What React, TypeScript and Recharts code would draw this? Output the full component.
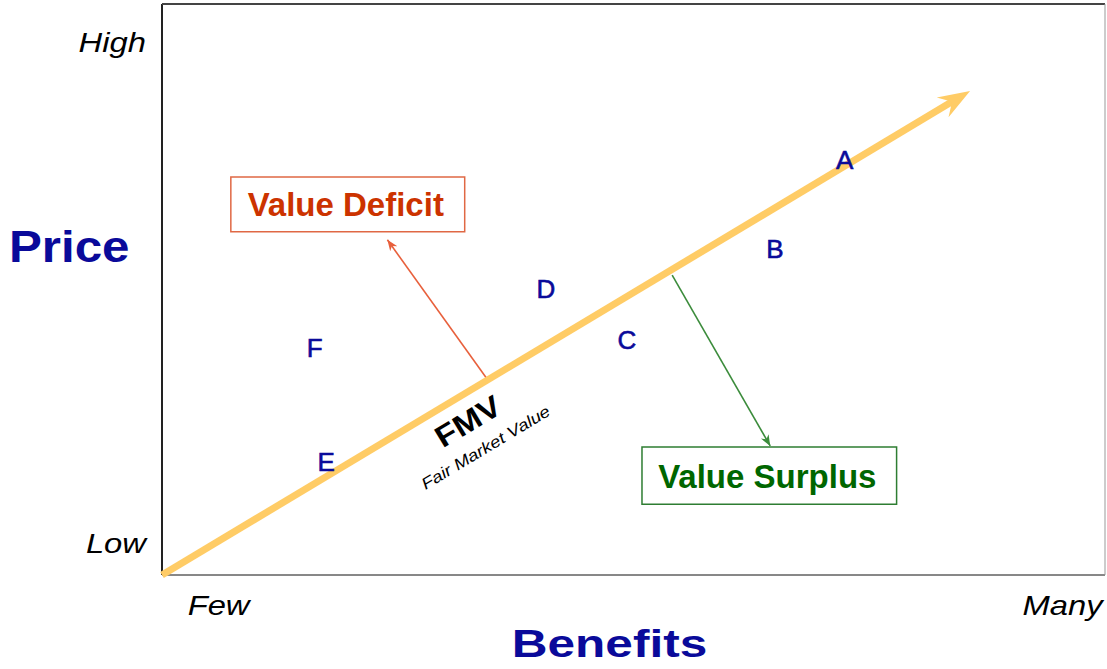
import {
  ComposedChart,
  Line,
  Scatter,
  XAxis,
  YAxis,
  ReferenceArea,
  ReferenceLine,
  ReferenceDot,
  Label,
} from "recharts";

// letters placed on the price / benefits map (0..100 both ways)
const pointLabels = ["A", "B", "C", "D", "E", "F"];
const pointBenefits = [72.4, 65.0, 49.3, 40.7, 17.4, 16.2];
const pointPrices = [72.7, 57.1, 41.3, 50.1, 19.8, 39.9];

// fair market value line
const fmvBenefits = [0, 84.6];
const fmvPrices = [0, 83.7];

// arrows off the FMV line
const deficitBenefits = [34.4, 23.9];
const deficitPrices = [34.5, 58.7];
const surplusBenefits = [54.1, 64.5];
const surplusPrices = [52.5, 22.6];

// boxes: [x1, x2, y1, y2]
const deficitBox = [7.3, 32.1, 60.1, 69.7];
const surplusBox = [50.9, 77.9, 12.4, 22.4];

// axis tick labels
const xTickLabels = ["Few", "Many"];
const xTickValues = [6.0, 95.5];
const yTickLabels = ["Low", "High"];
const yTickValues = [5.6, 93.3];

// FMV captions
const fmvCaption = { x: 32.4, y: 27.0, text: "FMV" };
const fmvSubCaption = { x: 34.3, y: 22.4, text: "Fair Market Value" };

const FONT = '"Liberation Sans", Arial, sans-serif';
const BLUE = "#0a0a9a";
const FMV_COLOR = "#FFCC66";
const LINE_ANGLE = -31;

const toPoints = (xs: number[], ys: number[]) => xs.map((x, i) => ({ x, y: ys[i] }));

const letterData = pointLabels.map((label, i) => ({
  x: pointBenefits[i],
  y: pointPrices[i],
  label,
}));
const fmvData = toPoints(fmvBenefits, fmvPrices);
const deficitData = toPoints(deficitBenefits, deficitPrices);
const surplusData = toPoints(surplusBenefits, surplusPrices);

function LetterShape(props: any) {
  const { cx, cy, payload } = props;
  return (
    <text
      x={cx}
      y={cy + 9.5}
      textAnchor="middle"
      fontFamily={FONT}
      fontSize={26}
      fill={BLUE}
      stroke={BLUE}
      strokeWidth={0.6}
    >
      {payload.label}
    </text>
  );
}

function XTick(props: any) {
  const { x, y, payload } = props;
  const label = xTickLabels[xTickValues.indexOf(payload.value)];
  return (
    <g transform={`translate(${x},${y + 40}) scale(1.17,1)`}>
      <text x={0} y={0} textAnchor="middle" fontFamily={FONT} fontStyle="italic" fontSize={28} fill="#000">
        {label}
      </text>
    </g>
  );
}

function YTick(props: any) {
  const { x, y, payload } = props;
  const label = yTickLabels[yTickValues.indexOf(payload.value)];
  return (
    <g transform={`translate(${x - 16},${y + 10}) scale(1.17,1)`}>
      <text x={0} y={0} textAnchor="end" fontFamily={FONT} fontStyle="italic" fontSize={28} fill="#000">
        {label}
      </text>
    </g>
  );
}

function boxLabel(text: string, color: string) {
  return (props: any) => {
    const vb = props.viewBox;
    return (
      <text
        x={vb.x + vb.width / 2 - 2}
        y={vb.y + vb.height / 2 + 12}
        textAnchor="middle"
        fontFamily={FONT}
        fontWeight="bold"
        fontSize={33}
        fill={color}
      >
        {text}
      </text>
    );
  };
}

function priceLabel(props: any) {
  const vb = props.viewBox;
  return (
    <g transform={`translate(${vb.x + 9},${vb.y + 258}) scale(1.12,1)`}>
      <text x={0} y={0} fontFamily={FONT} fontWeight="bold" fontSize={44} fill={BLUE}>
        Price
      </text>
    </g>
  );
}

function benefitsLabel(props: any) {
  const vb = props.viewBox;
  return (
    <g transform={`translate(${vb.x + vb.width / 2 - 24},${vb.y + 82}) scale(1.27,1)`}>
      <text x={0} y={0} textAnchor="middle" fontFamily={FONT} fontWeight="bold" fontSize={39} fill={BLUE}>
        Benefits
      </text>
    </g>
  );
}

function FmvText(props: any) {
  const { cx, cy } = props;
  return (
    <g transform={`translate(${cx},${cy}) rotate(${LINE_ANGLE}) scale(1.12,1)`}>
      <text x={0} y={11} textAnchor="middle" fontFamily={FONT} fontWeight="bold" fontSize={30} fill="#000">
        {fmvCaption.text}
      </text>
    </g>
  );
}

function FmvSubText(props: any) {
  const { cx, cy } = props;
  return (
    <g transform={`translate(${cx},${cy}) rotate(${LINE_ANGLE}) scale(1.17,1)`}>
      <text x={0} y={6} textAnchor="middle" fontFamily={FONT} fontStyle="italic" fontSize={16} fill="#000">
        {fmvSubCaption.text}
      </text>
    </g>
  );
}

export default function App() {
  return (
    <div style={{ position: "absolute", left: 0, top: 0, width: 1107, height: 669, background: "#fff" }}>
      <ComposedChart width={1107} height={669} margin={{ top: 4, right: 2, bottom: 30, left: 0 }}>
        <defs>
          <marker
            id="fmvHead"
            viewBox="-22 -13 36 26"
            markerWidth={36}
            markerHeight={26}
            refX={0}
            refY={0}
            markerUnits="userSpaceOnUse"
            orient="auto"
          >
            <path d="M12,0 L-20,-11.5 L-9,0 L-20,11.5 Z" fill={FMV_COLOR} />
          </marker>
          <marker
            id="redHead"
            viewBox="0 0 10 10"
            markerWidth={11}
            markerHeight={11}
            refX={10}
            refY={5}
            markerUnits="userSpaceOnUse"
            orient="auto"
          >
            <path d="M0,1 L10,5 L0,9 L3,5 Z" fill="#E8603C" />
          </marker>
          <marker
            id="greenHead"
            viewBox="0 0 10 10"
            markerWidth={11}
            markerHeight={11}
            refX={10}
            refY={5}
            markerUnits="userSpaceOnUse"
            orient="auto"
          >
            <path d="M0,1 L10,5 L0,9 L3,5 Z" fill="#3C8C3C" />
          </marker>
        </defs>

        <XAxis
          type="number"
          dataKey="x"
          domain={[0, 100]}
          ticks={xTickValues}
          interval={0}
          height={64}
          axisLine={false}
          tickLine={false}
          tickSize={0}
          tickMargin={0}
          tick={<XTick />}
        >
          <Label content={benefitsLabel} />
        </XAxis>
        <YAxis
          type="number"
          dataKey="y"
          domain={[0, 100]}
          ticks={yTickValues}
          interval={0}
          width={162}
          axisLine={false}
          tickLine={false}
          tickSize={0}
          tickMargin={0}
          tick={<YTick />}
        >
          <Label content={priceLabel} />
        </YAxis>

        <ReferenceLine x={0} stroke="#222" strokeWidth={2} ifOverflow="visible" />
        <ReferenceLine y={100} stroke="#444" strokeWidth={2} ifOverflow="visible" />
        <ReferenceLine y={0} stroke="#111" strokeWidth={1} ifOverflow="visible" />
        <ReferenceLine x={100} stroke="#999" strokeWidth={1} ifOverflow="visible" />

        <ReferenceArea
          x1={deficitBox[0]}
          x2={deficitBox[1]}
          y1={deficitBox[2]}
          y2={deficitBox[3]}
          fill="#fff"
          fillOpacity={1}
          stroke="#E06844"
          strokeWidth={1.5}
          ifOverflow="visible"
          label={boxLabel("Value Deficit", "#CC3300")}
        />
        <ReferenceArea
          x1={surplusBox[0]}
          x2={surplusBox[1]}
          y1={surplusBox[2]}
          y2={surplusBox[3]}
          fill="#fff"
          fillOpacity={1}
          stroke="#2E7D32"
          strokeWidth={1.5}
          ifOverflow="visible"
          label={boxLabel("Value Surplus", "#006600")}
        />

        <Line
          data={deficitData}
          dataKey="y"
          stroke="#E8603C"
          strokeWidth={1.6}
          dot={false}
          activeDot={false}
          markerEnd="url(#redHead)"
          isAnimationActive={false}
        />
        <Line
          data={surplusData}
          dataKey="y"
          stroke="#3C8C3C"
          strokeWidth={1.6}
          dot={false}
          activeDot={false}
          markerEnd="url(#greenHead)"
          isAnimationActive={false}
        />
        <Line
          data={fmvData}
          dataKey="y"
          stroke={FMV_COLOR}
          strokeWidth={7}
          dot={false}
          activeDot={false}
          markerEnd="url(#fmvHead)"
          isAnimationActive={false}
        />

        <Scatter data={letterData} dataKey="y" shape={<LetterShape />} isAnimationActive={false} />

        <ReferenceDot x={fmvCaption.x} y={fmvCaption.y} r={0} shape={<FmvText />} ifOverflow="visible" />
        <ReferenceDot x={fmvSubCaption.x} y={fmvSubCaption.y} r={0} shape={<FmvSubText />} ifOverflow="visible" />
      </ComposedChart>
    </div>
  );
}
